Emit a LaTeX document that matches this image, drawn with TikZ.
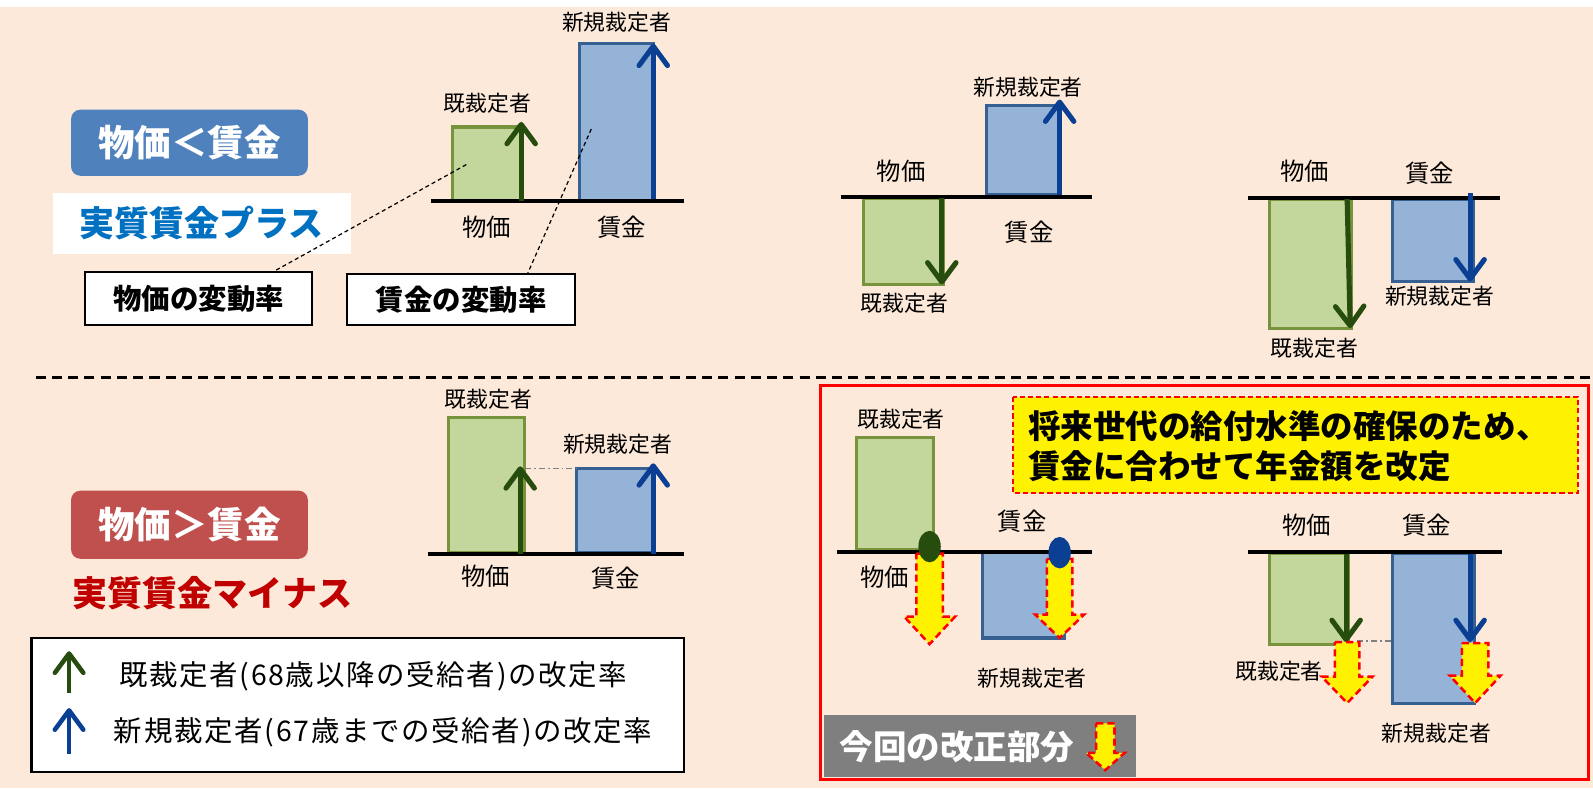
\documentclass[tikz,border=0pt]{standalone}
\usepackage{fontspec}
\setmainfont{Noto Sans CJK JP}
\newfontfamily\legfont{Noto Sans CJK JP}[LetterSpace=6]
\usetikzlibrary{arrows.meta,shapes.geometric}
\definecolor{bg}{HTML}{FDE9D9}
\definecolor{hblue}{HTML}{4F81BD}
\definecolor{hred}{HTML}{C0504D}
\definecolor{gfill}{HTML}{C3D69B}
\definecolor{gline}{HTML}{77933C}
\definecolor{bfill}{HTML}{95B3D7}
\definecolor{bline}{HTML}{376092}
\definecolor{garrow}{HTML}{264D0E}
\definecolor{barrow}{HTML}{0A3F94}
\definecolor{tblue}{HTML}{0070C0}
\definecolor{tred}{HTML}{C00000}
\definecolor{gbox}{HTML}{7F7F7F}
\newcommand\fsz[1]{\fontsize{#1}{#1}\selectfont}
\newcommand\yarrowdown[6]{%
  \path[yarr] ({#1-#5},#2) -- ({#1+#5},#2) -- ({#1+#5},#3) -- ({#1+#6},#3) -- (#1,#4)
    -- ({#1-#6},#3) -- ({#1-#5},#3) -- cycle;}
\tikzset{
  lbl/.style={font=\fsz{21.5}, inner sep=0pt},
  cat/.style={font=\fsz{24}, inner sep=0pt},
  gbar/.style={fill=gfill, draw=gline, line width=3pt},
  bbar/.style={fill=bfill, draw=bline, line width=3pt},
  baseline/.style={line width=4pt, black},
  chev/.style={-{Straight Barb[length=19pt,width=28pt,round]}},
  garr/.style={draw=garrow, line width=5pt, chev},
  barr/.style={draw=barrow, line width=5pt, chev},
  yarr/.style={fill=yellow, draw=red, line width=2.5pt, dash pattern=on 7pt off 4pt},
  guide/.style={gray, line width=1.5pt, dash pattern=on 6pt off 3pt on 1.5pt off 3pt},
  headbox/.style={rounded corners=9pt, minimum width=233pt, text=white, inner sep=0pt,
    font=\bfseries\fsz{36}},
  ratebox/.style={draw=black, fill=white, line width=2pt, inner sep=0pt, font=\bfseries\fsz{28}},
  dashline/.style={black, line width=1.2pt, dash pattern=on 4pt off 3pt},
}
\begin{document}
\begin{tikzpicture}[x=1pt,y=-1pt]
\useasboundingbox (0,0) rectangle (1568,776);
\fill[white] (0,0) rectangle (1568,776);
\fill[bg] (0,7) rectangle (1568,776);

% ---------- top left ----------
\node[headbox, fill=hblue, minimum height=65pt] (h1) at (186.5,140.5) {物価＜賃金};
\node[fill=white, minimum width=293pt, minimum height=60pt, inner sep=0pt,
  text=tblue, font=\bfseries\fsz{34.5}] (p1) at (198.5,220) {実質賃金プラス};
\node[ratebox, minimum width=223pt, minimum height=52pt] (r1) at (195.5,294) {物価の変動率};
\node[ratebox, minimum width=224pt, minimum height=50pt] (r2) at (454,295) {賃金の変動率};
\path[gbar] (445,125) rectangle (513,197);
\path[bbar] (570,43) rectangle (643,197);
\coordinate (b1l) at (424,198); \coordinate (b1r) at (673,198);
\draw[baseline] (b1l) -- (b1r);
\coordinate (ga1s) at (513,198); \coordinate (ga1e) at (513,120);
\draw[garr] (ga1s) -- (ga1e);
\coordinate (ba1s) at (643,196); \coordinate (ba1e) at (643,43);
\draw[barr] (ba1s) -- (ba1e);
\node[lbl] (l1a) at (480,102) {既裁定者};
\node[lbl] (l1b) at (607,22) {新規裁定者};
\node[cat] (l1c) at (479,224) {物価};
\node[cat] (l1d) at (612,224) {賃金};
\coordinate (d1s) at (459,162); \coordinate (d1e) at (268,268);
\draw[dashline] (d1s) -- (d1e);
\coordinate (d2s) at (582,127); \coordinate (d2e) at (519,270);
\draw[dashline] (d2s) -- (d2e);

% ---------- top middle ----------
\path[gbar] (850,195) rectangle (929,280);
\path[bbar] (971,104) rectangle (1043,191);
\coordinate (b2l) at (828,194); \coordinate (b2r) at (1075,194);
\draw[baseline] (b2l) -- (b2r);
\coordinate (ga2s) at (927,195); \coordinate (ga2e) at (927,280);
\draw[garr] (ga2s) -- (ga2e);
\coordinate (ba2s) at (1043,192); \coordinate (ba2e) at (1043,98);
\draw[barr] (ba2s) -- (ba2e);
\node[cat] (l2a) at (887,169) {物価};
\node[cat] (l2b) at (1013,229) {賃金};
\node[lbl] (l2c) at (890,298) {既裁定者};
\node[lbl] (l2d) at (1012,86) {新規裁定者};

% ---------- top right ----------
\path[gbar] (1250,196) rectangle (1330,323);
\path[bbar] (1371,196) rectangle (1450,277);
\coordinate (b3l) at (1228,195); \coordinate (b3r) at (1476,195);
\draw[baseline] (b3l) -- (b3r);
\coordinate (ga3s) at (1326,196); \coordinate (ga3e) at (1329,323);
\draw[garr] (ga3s) -- (ga3e);
\coordinate (ba3s) at (1447,190); \coordinate (ba3e) at (1447,277);
\draw[barr] (ba3s) -- (ba3e);
\node[cat] (l3a) at (1284,169) {物価};
\node[cat] (l3b) at (1407,171) {賃金};
\node[lbl] (l3c) at (1294,343) {既裁定者};
\node[lbl] (l3d) at (1417,292) {新規裁定者};

% ---------- separator ----------
\coordinate (sepl) at (35,372); \coordinate (sepr) at (1568,372);
\draw[black, line width=3pt, dash pattern=on 10pt off 6pt] (sepl) -- (sepr);

% ---------- bottom left ----------
\node[headbox, fill=hred, minimum height=67pt] (h2) at (186.5,516.5) {物価＞賃金};
\node[inner sep=0pt, text=tred, font=\bfseries\fsz{34.5}] (m1) at (209,584) {実質賃金マイナス};
\node[draw=black, fill=white, line width=2pt, minimum width=642pt, minimum height=132pt,
  inner sep=0pt] (leg) at (352,694) {};
\coordinate (lg1s) at (68,682); \coordinate (lg1e) at (68,641);
\draw[draw=garrow, line width=4.5pt, chev] (lg1s) -- (lg1e);
\coordinate (lg2s) at (68,742); \coordinate (lg2e) at (68,697);
\draw[draw=barrow, line width=4.5pt, chev] (lg2s) -- (lg2e);
\node[anchor=west, inner sep=0pt, font=\legfont\fsz{28}] (lt1) at (117,666) {既裁定者(68歳以降の受給者)の改定率};
\node[anchor=west, inner sep=0pt, font=\legfont\fsz{28}] (lt2) at (112,721) {新規裁定者(67歳までの受給者)の改定率};

% ---------- bottom middle ----------
\path[gbar] (441,411) rectangle (516,544);
\path[bbar] (567,461) rectangle (643,544);
\coordinate (b4l) at (421,545); \coordinate (b4r) at (673,545);
\draw[baseline] (b4l) -- (b4r);
\coordinate (gd4s) at (517,461); \coordinate (gd4e) at (567,461);
\draw[guide] (gd4s) -- (gd4e);
\coordinate (ga4s) at (512,545); \coordinate (ga4e) at (512,459);
\draw[garr] (ga4s) -- (ga4e);
\coordinate (ba4s) at (643,545); \coordinate (ba4e) at (643,456);
\draw[barr] (ba4s) -- (ba4e);
\node[lbl] (l4a) at (481,393) {既裁定者};
\node[lbl] (l4b) at (608,437) {新規裁定者};
\node[cat] (l4c) at (478,567) {物価};
\node[cat] (l4d) at (606,569) {賃金};

% ---------- bottom right frame ----------
\draw[red, line width=3pt] (808,379) rectangle (1564,767);
\path[fill=yellow, draw=red, line width=1.5pt, dash pattern=on 5pt off 3pt] (997,391) rectangle (1553,485);
\node[anchor=west, align=left, inner sep=0pt, font=\bfseries\fsz{32}, text height=27pt]
  (yt1) at (1012,420) {将来世代の給付水準の確保のため、};
\node[anchor=west, align=left, inner sep=0pt, font=\bfseries\fsz{32}, text height=27pt]
  (yt2) at (1012,459) {賃金に合わせて年金額を改定};

% left sub panel
\path[gbar] (843,431) rectangle (919,541);
\path[bbar] (967,544) rectangle (1048,628);
\coordinate (b5l) at (824,543); \coordinate (b5r) at (1075,543);
\draw[baseline] (b5l) -- (b5r);
\yarrowdown{915}{545}{607}{634}{13}{25}
\yarrowdown{1043}{550}{605}{628}{12.5}{24}
\node[ellipse, fill=garrow, minimum width=22pt, minimum height=31pt, inner sep=0pt] (e1) at (915,538) {};
\node[ellipse, fill=barrow, minimum width=22pt, minimum height=31pt, inner sep=0pt] (e2) at (1043,544) {};
\node[lbl] (l5a) at (887,413) {既裁定者};
\node[cat] (l5b) at (871,568) {物価};
\node[cat] (l5c) at (1006,513) {賃金};
\node[lbl] (l5d) at (1016,668) {新規裁定者};

% right sub panel
\path[gbar] (1250,545) rectangle (1327,634);
\path[bbar] (1371,545) rectangle (1451,692);
\coordinate (b6l) at (1228,543); \coordinate (b6r) at (1478,543);
\draw[baseline] (b6l) -- (b6r);
\coordinate (gd6s) at (1336,631); \coordinate (gd6e) at (1370,631);
\draw[guide] (gd6s) -- (gd6e);
\coordinate (ga6s) at (1325,545); \coordinate (ga6e) at (1325,632);
\draw[garr] (ga6s) -- (ga6e);
\coordinate (ba6s) at (1447,545); \coordinate (ba6e) at (1447,632);
\draw[barr] (ba6s) -- (ba6e);
\yarrowdown{1326}{632}{666}{692}{12}{25}
\yarrowdown{1452}{633}{665}{692}{13}{25}
\node[cat] (l6a) at (1286,517) {物価};
\node[cat] (l6b) at (1404,517) {賃金};
\node[lbl] (l6c) at (1259,661) {既裁定者};
\node[lbl] (l6d) at (1414,722) {新規裁定者};

% gray label box
\path[fill=gbox] (811,704) rectangle (1118,765);
\node[inner sep=0pt, text=white, font=\bfseries\fsz{33}] (gt) at (942,735) {今回の改正部分};
\yarrowdown{1088}{712}{741}{758}{9}{19}
\end{tikzpicture}
\end{document}
